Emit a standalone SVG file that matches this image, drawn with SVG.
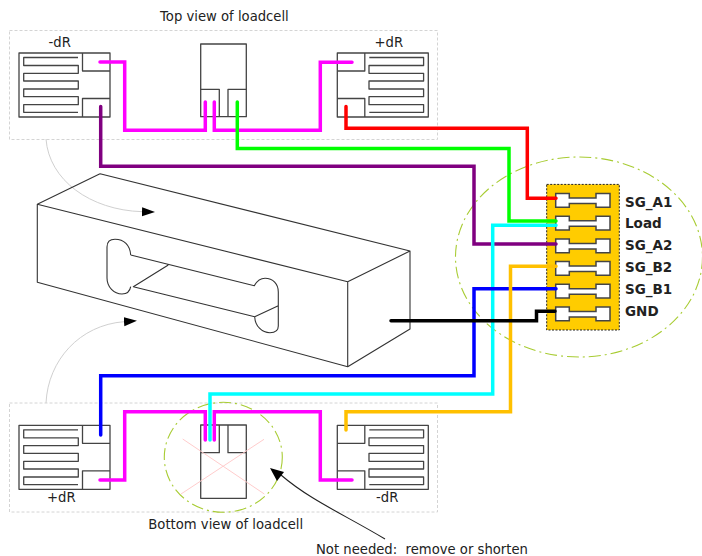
<svg xmlns="http://www.w3.org/2000/svg" width="702" height="556" viewBox="0 0 702 556">
<style>
text{font-family:"DejaVu Sans",Verdana,sans-serif;font-size:13.200px;fill:#222}
.b{font-weight:bold;font-size:13.500px}
.box{fill:none;stroke:#d4d4d4;stroke-width:1;stroke-dasharray:3 2}
.s{fill:none;stroke:#444;stroke-width:1.300;stroke-linejoin:round}
.cell{fill:none;stroke:#333;stroke-width:1.100;stroke-linejoin:round}
.w{fill:none;stroke-width:3.500;stroke-linecap:round;stroke-linejoin:miter}
.g{fill:none;stroke:#d0d0d0;stroke-width:1}
.e{fill:none;stroke:#a8cc33;stroke-width:1.100;stroke-dasharray:12 4 2 4}
.pad{fill:#fff;stroke:#444;stroke-width:1.500}
</style>
<defs>
<marker id="ah" markerWidth="14" markerHeight="10" refX="0" refY="4.500" orient="auto" markerUnits="userSpaceOnUse"><path d="M0 0L13 4.500L0 9Z" fill="#000"/></marker>
<g id="gauge">
<rect class="s" x="19" y="53" width="91" height="64"/>
<path class="s" d="M82.500 53V71H110M82.500 117V98.500H110"/>
<path class="s" d="M78 57.500H23.700V65.500H78.300V73.300H23.700V81H78.300V89H23.700V96.700H78.300V104.700H23.700V112.300H78"/>
</g>
<g id="pad">
<path class="pad" d="M555.700 193.500H569.300V198H596V193.500H610V207.300H596V203.500H569.300V207.300H555.700Z"/>
</g>
</defs>

<rect class="box" x="9.500" y="30.500" width="428" height="109"/>
<rect class="box" x="9.500" y="403" width="428" height="109"/>
<path class="g" d="M46 139C49 180 90 210 142 211.700" marker-end="url(#ah)"/>
<path class="g" d="M46 403C48 360 80 325 124 321.700" marker-end="url(#ah)"/>

<g id="loadcell">
<path class="cell" d="M100 173.700L37.300 204.300V282.300L347.700 366.700V281.700L37.300 204.300M100 173.700L410 251L347.700 281.700M410 251V329L347.700 366.700"/>
<path class="cell" d="M130.700 255C130 245 124 239.300 115 239.300C110 239.300 107 242 107 247V278C107 287 114 294 122 294C127 294 130 291 130.700 286.700M130.700 255L254.300 285.700C257 281 261 278.300 265 278.300C273 278.300 278.300 284 278.300 292V326C278.300 331 275 332.700 270 332.700C262 332.700 255 326 254.700 316.700L133.300 286.700L168.300 265M254.700 316.700L278.300 305.700"/>
</g>

<g id="gauge-top-left"><use href="#gauge"/></g>
<g id="gauge-top-right"><use href="#gauge" transform="matrix(-1 0 0 1 447.300 0)"/></g>
<g id="gauge-bottom-left"><use href="#gauge" transform="translate(0 372.300)"/></g>
<g id="gauge-bottom-right"><use href="#gauge" transform="matrix(-1 0 0 1 447.300 372.300)"/></g>

<g id="center-top">
<rect class="s" x="200.700" y="44" width="45.600" height="72.700"/>
<path class="s" d="M200.700 89.300H219.300V116.700M228 116.700V89.300H246.300"/>
</g>
<g id="center-bottom">
<rect class="s" x="200.700" y="425" width="45.600" height="73.300"/>
<path class="s" d="M200.700 452.700H219.300V425M228 425V452.700H246.300"/>
<path d="M182.700 439L264.300 494M181 494L264 439.300" fill="none" stroke="#ffcccc" stroke-width="1"/>
</g>
<ellipse class="e" cx="223.300" cy="457.300" rx="59" ry="55"/>

<g id="chip">
<ellipse class="e" cx="579" cy="257" rx="123.500" ry="100"/>
<rect x="546.700" y="184.400" width="72.600" height="145.600" fill="#ffcc00" stroke="#222" stroke-width="1" stroke-dasharray="2 1.500"/>
<use href="#pad"/>
<use href="#pad" transform="translate(0 22.700)"/>
<use href="#pad" transform="translate(0 45.400)"/>
<use href="#pad" transform="translate(0 68)"/>
<use href="#pad" transform="translate(0 90.700)"/>
<use href="#pad" transform="translate(0 113.400)"/>
</g>

<g id="connectors">
<path class="w" stroke="#ff00ff" d="M100 62H124.700V130.300H205.300V102"/>
<path class="w" stroke="#ff00ff" d="M214.300 102V130.300H320.300V62.300H352"/>
<path class="w" stroke="#800080" d="M100.700 106.500V166.300H474V244H556"/>
<path class="w" stroke="#00ff00" d="M237.300 102V148.500H509V221H556"/>
<path class="w" stroke="#ff0000" d="M346 106.500V128.300H527.300V198.300H556"/>
<path class="w" stroke="#00ffff" d="M210 440V394H492.700V225.300H556"/>
<path class="w" stroke="#ff00ff" d="M205.300 440V411.700H124.700V480H100"/>
<path class="w" stroke="#ff00ff" d="M214.300 440V411.700H320.300V480H352"/>
<path class="w" stroke="#0000ff" d="M100.700 435V375.700H474V288.700H556"/>
<path class="w" stroke="#ffc000" d="M346 430V411.700H510.500V266.300H556"/>
<path class="w" stroke="#000000" d="M391 320.700H536.500V311.300H555"/>
<path d="M385 539C345 515 310 500 281 475" fill="none" stroke="#222" stroke-width="1.100"/>
<path d="M270 468L284 472L277 481Z" fill="#000"/>
</g>

<text x="160" y="20.700">Top view of loadcell</text>
<text x="48.500" y="46.700">-dR</text>
<text x="374.500" y="46.700">+dR</text>
<text x="47" y="501.700">+dR</text>
<text x="376" y="501.700">-dR</text>
<text x="148.300" y="529.300">Bottom view of loadcell</text>
<text x="316" y="554.300" xml:space="preserve">Not needed:  remove or shorten</text>
<text class="b" x="625" y="206.500">SG_A1</text>
<text class="b" x="625" y="228">Load</text>
<text class="b" x="625" y="250">SG_A2</text>
<text class="b" x="625" y="272">SG_B2</text>
<text class="b" x="625" y="294">SG_B1</text>
<text class="b" x="625" y="316">GND</text>
</svg>
